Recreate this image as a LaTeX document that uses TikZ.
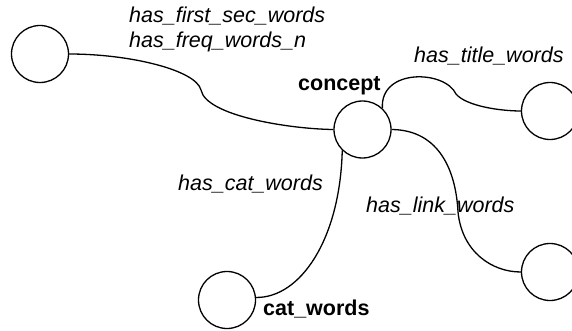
\documentclass[tikz,border=0pt]{standalone}
\usepackage{fontspec}
\setmainfont{Liberation Sans}
\begin{document}
\begin{tikzpicture}[x=1pt,y=-1pt,
  vert/.style={circle,draw,line width=1.3pt,minimum size=57pt,inner sep=0pt},
  edge/.style={line width=1.3pt},
  elab/.style={font=\fontsize{21.5}{25}\selectfont\itshape,inner sep=0pt,anchor=base west,align=left},
  vlab/.style={font=\fontsize{21.5}{25}\selectfont\bfseries,inner sep=0pt,anchor=base west}]
\useasboundingbox (0,0) rectangle (572,331);
\node[vert] (L) at (40,54) {};
\node[vert] (C) at (362.5,129.5) {};
\node[vert] (TR) at (550,111) {};
\node[vert] (BR) at (550,272) {};
\node[vert] (CW) at (227,300) {};
\coordinate (k1) at (201,90);
\coordinate (k2) at (456,94);
\coordinate (k3) at (458,212);
\draw[edge] (L.east) .. controls (130,54) and (196,70) .. (k1)
  .. controls (206,116) and (290,129) .. (C.west);
\draw[edge] (C.47) .. controls (380,68) and (445,70) .. (k2)
  .. controls (466,106) and (500,111) .. (TR.west);
\draw[edge] (C.east) .. controls (440,130) and (456,172) .. (k3)
  .. controls (462,252) and (492,272) .. (BR.west);
\draw[edge] (C.226) .. controls (340,240) and (300,298) .. (CW.5);
\node[elab] (l1) at (129,48) {has\_first\_sec\_words\\has\_freq\_words\_n};
\node[vlab] (lc) at (298,91) {concept};
\node[elab] (l2) at (414,63) {has\_title\_words};
\node[elab] (l3) at (178,190) {has\_cat\_words};
\node[elab] (l4) at (366,212) {has\_link\_words};
\node[vlab] (lw) at (263,315) {cat\_words};
\end{tikzpicture}
\end{document}
